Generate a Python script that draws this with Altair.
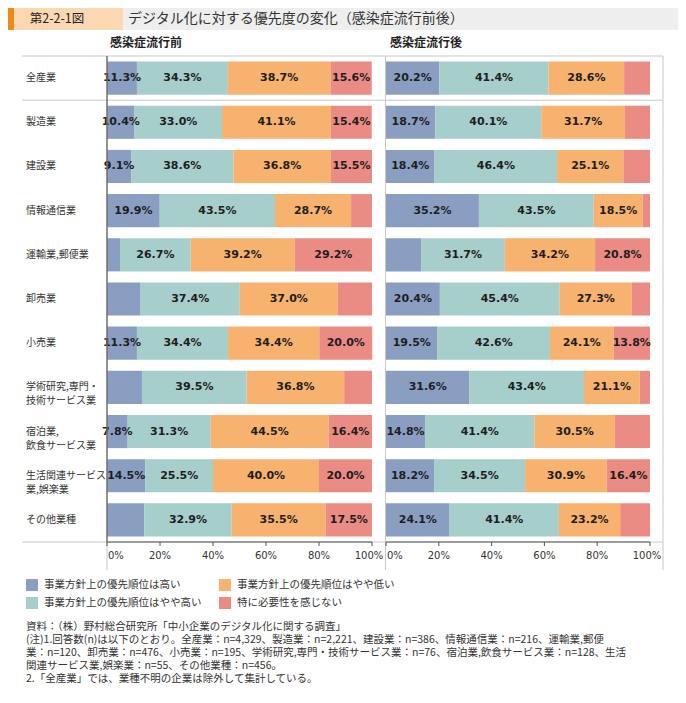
import altair as alt
import pandas as pd

# ---------------- data ----------------
categories = [
    "全産業", "製造業", "建設業", "情報通信業", "運輸業,郵便業", "卸売業", "小売業",
    "学術研究,専門・\n技術サービス業", "宿泊業,\n飲食サービス業",
    "生活関連サービス\n業,娯楽業", "その他業種",
]
series_names = [
    "事業方針上の優先順位は高い",
    "事業方針上の優先順位はやや高い",
    "事業方針上の優先順位はやや低い",
    "特に必要性を感じない",
]
series_colors = ["#8a9ec2", "#a6ceca", "#f6b26e", "#eb8c84"]

# 感染症流行前
before_high = [11.3, 10.4, 9.1, 19.9, 4.9, 12.7, 11.3, 13.2, 7.8, 14.5, 14.1]
before_midhigh = [34.3, 33.0, 38.6, 43.5, 26.7, 37.4, 34.4, 39.5, 31.3, 25.5, 32.9]
before_midlow = [38.7, 41.1, 36.8, 28.7, 39.2, 37.0, 34.4, 36.8, 44.5, 40.0, 35.5]
before_none = [15.6, 15.4, 15.5, 7.9, 29.2, 12.9, 20.0, 10.5, 16.4, 20.0, 17.5]
before_high_shown = [1, 1, 1, 1, 0, 0, 1, 0, 1, 1, 0]
before_midhigh_shown = [1] * 11
before_midlow_shown = [1] * 11
before_none_shown = [1, 1, 1, 0, 1, 0, 1, 0, 1, 1, 1]

# 感染症流行後
after_high = [20.2, 18.7, 18.4, 35.2, 13.3, 20.4, 19.5, 31.6, 14.8, 18.2, 24.1]
after_midhigh = [41.4, 40.1, 46.4, 43.5, 31.7, 45.4, 42.6, 43.4, 41.4, 34.5, 41.4]
after_midlow = [28.6, 31.7, 25.1, 18.5, 34.2, 27.3, 24.1, 21.1, 30.5, 30.9, 23.2]
after_none = [9.8, 9.5, 10.1, 2.8, 20.8, 6.9, 13.8, 3.9, 13.3, 16.4, 11.3]
after_high_shown = [1, 1, 1, 1, 0, 1, 1, 1, 1, 1, 1]
after_midhigh_shown = [1] * 11
after_midlow_shown = [1] * 11
after_none_shown = [0, 0, 0, 0, 1, 0, 1, 0, 0, 1, 0]

x_ticks = [0, 20, 40, 60, 80, 100]
x_tick_labels = ["0%", "20%", "40%", "60%", "80%", "100%"]

header_fig = "第2-2-1図"
header_title = "デジタル化に対する優先度の変化（感染症流行前後）"
panel_titles = ["感染症流行前", "感染症流行後"]
note_lines = [
    "資料：（株）野村総合研究所「中小企業のデジタル化に関する調査」",
    "(注)1.回答数(n)は以下のとおり。全産業：n=4,329、製造業：n=2,221、建設業：n=386、情報通信業：n=216、運輸業,郵便",
    "業：n=120、卸売業：n=476、小売業：n=195、学術研究,専門・技術サービス業：n=76、宿泊業,飲食サービス業：n=128、生活",
    "関連サービス業,娯楽業：n=55、その他業種：n=456。",
    "2.「全産業」では、業種不明の企業は除外して集計している。",
]

JP = "Noto Sans CJK JP"
NUM = "DejaVu Sans"
FRAME = "#c8c8c8"
AXIS = "#555555"


def build_df(series, shown):
    rows = []
    for i, cat in enumerate(categories):
        start = 0.0
        for name, vals, flags in zip(series_names, series, shown):
            v = vals[i]
            rows.append(dict(cat=cat, group=name, start=start, end=start + v,
                             mid=start + v / 2,
                             label=f"{v:.1f}%" if flags[i] else ""))
            start += v
    return pd.DataFrame(rows)


df_before = build_df([before_high, before_midhigh, before_midlow, before_none],
                     [before_high_shown, before_midhigh_shown, before_midlow_shown, before_none_shown])
df_after = build_df([after_high, after_midhigh, after_midlow, after_none],
                    [after_high_shown, after_midhigh_shown, after_midlow_shown, after_none_shown])
df_ticks = pd.DataFrame({"v": x_ticks, "lab": x_tick_labels})
df_cats = pd.DataFrame({"cat": categories})

# view = plot region (page x 107..663, y 56..542); decorations drawn in the padding
PAD = {"left": 99, "top": 48, "right": 15, "bottom": 148}
W, H = 556, 486
y_scale = alt.Scale(domain=categories, range=[0, H], paddingInner=0.25, paddingOuter=0.125)
color_scale = alt.Scale(domain=series_names, range=series_colors)


def tick_text(xs, test, align, dx):
    return alt.Chart(df_ticks).transform_filter(test).mark_text(
        align=align, baseline="middle", font=NUM, fontSize=10, color="#333333", dx=dx
    ).encode(x=alt.X("v:Q", scale=xs, axis=None), y=alt.value(H + 14), text="lab:N")


def panel(df, xrange, with_legend):
    xs = alt.Scale(domain=[0, 100], range=xrange, nice=False, zero=False)
    legend = alt.Legend(
        orient="none", legendX=-81, legendY=523, columns=2, title=None,
        symbolType="square", symbolSize=144, symbolStrokeWidth=0,
        labelFont=JP, labelFontSize=10.5, labelColor="#333333", labelLimit=300,
        rowPadding=6, columnPadding=17, labelOffset=6,
    ) if with_legend else None
    bars = alt.Chart(df).mark_bar().encode(
        x=alt.X("start:Q", scale=xs, axis=None),
        x2="end:Q",
        y=alt.Y("cat:N", sort=categories, scale=y_scale, axis=None),
        color=alt.Color("group:N", scale=color_scale, legend=legend),
    )
    text = alt.Chart(df).mark_text(font=NUM, fontSize=11, fontWeight="bold", color="#1e1e1e").encode(
        x=alt.X("mid:Q", scale=xs, axis=None),
        y=alt.Y("cat:N", sort=categories, scale=y_scale, axis=None),
        text="label:N",
    )
    ticks = alt.Chart(df_ticks).mark_rule(color=AXIS, strokeWidth=1).encode(
        x=alt.X("v:Q", scale=xs, axis=None),
        y=alt.value(H), y2=alt.value(H + 4),
    )
    domain = alt.Chart(df_ticks).transform_aggregate(lo="min(v)", hi="max(v)").mark_rule(
        color=AXIS, strokeWidth=1).encode(
        x=alt.X("lo:Q", scale=xs, axis=None), x2="hi:Q", y=alt.value(H))
    return alt.layer(
        bars, text, ticks, domain,
        tick_text(xs, "datum.v === 0", "left", 1),
        tick_text(xs, "datum.v > 0 && datum.v < 100", "center", 0),
        tick_text(xs, "datum.v === 100", "center", -3),
    )


def dummy():
    return pd.DataFrame({"k": [0]})


def hrule(x1, x2, y, color=FRAME, w=1):
    return alt.Chart(dummy()).mark_rule(color=color, strokeWidth=w).encode(
        x=alt.value(x1), x2=alt.value(x2), y=alt.value(y))


def vrule(x, y1, y2, color=FRAME, w=1):
    return alt.Chart(dummy()).mark_rule(color=color, strokeWidth=w).encode(
        x=alt.value(x), y=alt.value(y1), y2=alt.value(y2))


def rect(x1, x2, y1, y2, color):
    return alt.Chart(dummy()).mark_rect(color=color).encode(
        x=alt.value(x1), x2=alt.value(x2), y=alt.value(y1), y2=alt.value(y2))


def label(x, y, s, size, align="left", weight="normal", color="#333333", font=JP):
    return alt.Chart(dummy()).mark_text(
        align=align, baseline="middle", fontSize=size, fontWeight=weight, color=color, font=font
    ).encode(x=alt.value(x), y=alt.value(y), text=alt.value(s))


row_step = H / len(categories)

row_labels = alt.Chart(df_cats).mark_text(
    align="left", baseline="middle", lineBreak="\n", lineHeight=14,
    font=JP, fontSize=10, color="#333333"
).encode(
    x=alt.value(-81),
    y=alt.Y("cat:N", sort=categories, scale=y_scale, axis=None),
    text="cat:N",
)

layers = [
    # header (page y 8..30)
    rect(-99, 571, -48, -26, "#eeeeee"),
    rect(-99, -93, -48, -26, "#ef8a17"),
    rect(-93, 16, -48, -26, "#fbd8b2"),
    label(-50, -37, header_fig, 12.5, align="center", color="#222222"),
    label(21, -37, header_title, 14, color="#333333"),
    # panel titles
    label(3, -13, panel_titles[0], 12, weight="bold", color="#222222"),
    label(283, -13, panel_titles[1], 12, weight="bold", color="#222222"),
    # frame
    hrule(-85, 556, 0),
    hrule(-85, 556, row_step),
    hrule(-85, 556, H),
    vrule(0, H, H + 28),
    vrule(278.5, 0, H + 28),
    vrule(556, 0, H + 28),
    panel(df_before, [0, 265], True),
    panel(df_after, [279, 543], False),
    row_labels,
    vrule(0, 0, H, "#6e6e6e", 1.5),
    alt.Chart(pd.DataFrame({"t": ["\n".join(note_lines)]})).mark_text(
        align="left", baseline="top", lineBreak="\n", lineHeight=13,
        fontSize=10.5, font=JP, color="#333333"
    ).encode(x=alt.value(-81), y=alt.value(566), text="t:N"),
]

chart = alt.layer(*layers).resolve_scale(x="independent").properties(
    width=W, height=H, padding=PAD, autosize=alt.AutoSizeParams(type="none")
).configure_view(stroke=None)

chart.save("out.html", embed_options={"renderer": "svg", "actions": False})
